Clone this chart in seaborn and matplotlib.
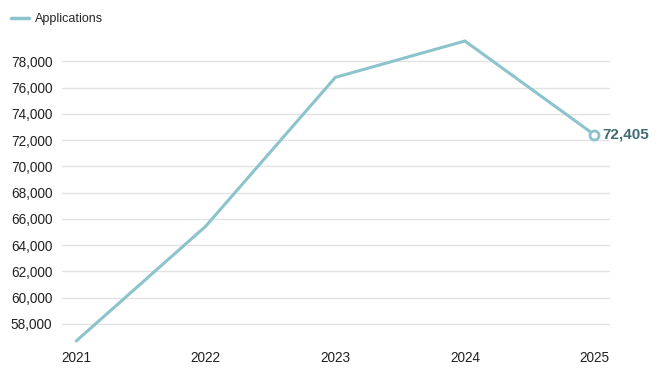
import pandas as pd
import matplotlib
matplotlib.use('Agg')
import matplotlib.pyplot as plt
import seaborn as sns

# Data
years = [2021, 2022, 2023, 2024, 2025]
applications = [56700, 65450, 76780, 79550, 72405]
series_name = 'Applications'
y_ticks = [58000, 60000, 62000, 64000, 66000, 68000, 70000, 72000, 74000, 76000, 78000]

df = pd.DataFrame({'year': years, 'value': applications, 'series': series_name})

line_color = '#8cc3cc'
label_color = '#3f6b74'

sns.set_style('white')
plt.rcParams['font.family'] = ['Liberation Sans', 'DejaVu Sans']

fig = plt.figure(figsize=(6.62, 3.73), dpi=100)
ax = fig.add_axes([62 / 662, 32 / 373, 548 / 662, 300 / 373])

sns.lineplot(data=df, x='year', y='value', hue='series', palette=[line_color],
             linewidth=2.2, ax=ax, legend=False)
for ln in ax.lines:
    ln.set_clip_on(False)

# last point marker + label
ax.plot(years[-1], applications[-1], 'o', ms=6.5, mfc='white', mec=line_color, mew=2,
        zorder=5, clip_on=False)
ax.annotate(f'{applications[-1]:,}', (years[-1], applications[-1]), xytext=(6, 0),
            textcoords='offset points', va='center', ha='left', fontsize=11,
            fontweight='bold', color=label_color, annotation_clip=False)

ax.set_xlim(2020.89, 2025.12)
ax.set_ylim(min(applications), max(applications))
ax.set_xticks(years)
ax.set_yticks(y_ticks)
ax.set_yticklabels([f'{v:,}' for v in y_ticks])
ax.set_xlabel('')
ax.set_ylabel('')
ax.grid(axis='y', color='#e3e3e3', linewidth=1)
for s in ax.spines.values():
    s.set_visible(False)
ax.tick_params(axis='both', length=0, labelsize=9.8, colors='#222222')
ax.tick_params(axis='y', pad=7)
ax.tick_params(axis='x', pad=7)

# legend at top-left of the figure
handle = plt.Line2D([], [], color=line_color, linewidth=2.5)
fig.legend([handle], [series_name], loc='upper left', bbox_to_anchor=(0.0, 0.995),
           frameon=False, fontsize=9, handlelength=1.4, handletextpad=0.5)

fig.savefig('out.png', dpi=100)
